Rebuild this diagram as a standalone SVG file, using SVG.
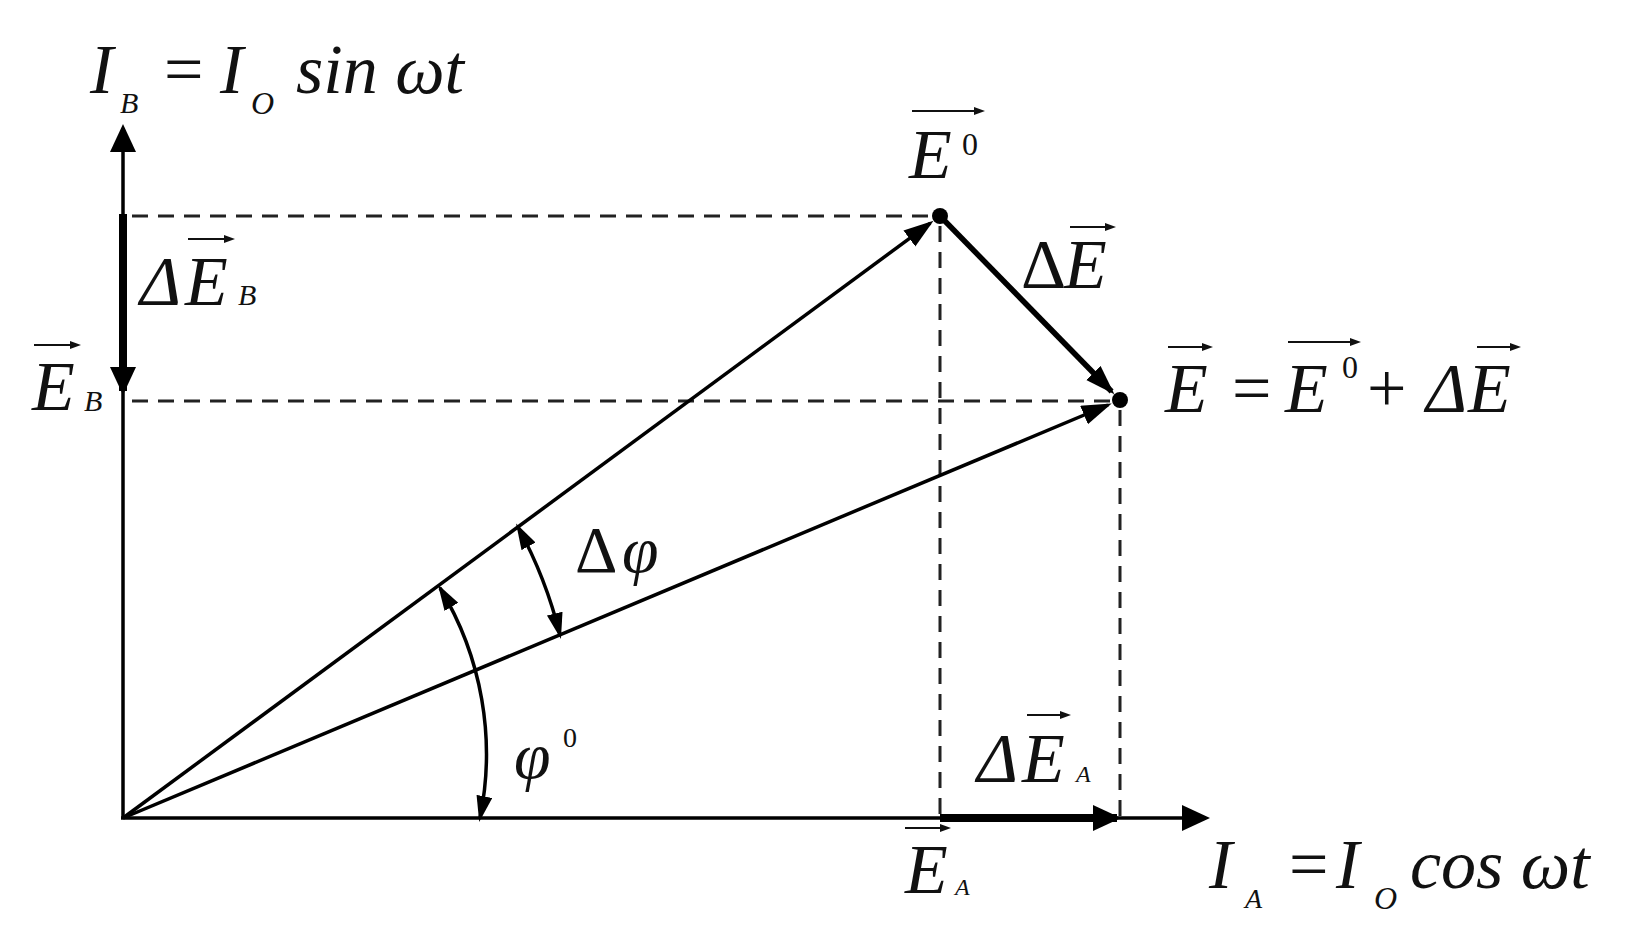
<svg xmlns="http://www.w3.org/2000/svg" width="1625" height="947" viewBox="0 0 1625 947">
<style>
.t{font-family:"Liberation Serif","Times New Roman",serif;font-style:italic;fill:#111;}
.u{font-family:"Liberation Serif","Times New Roman",serif;font-style:normal;fill:#111;}
.big{font-size:70px;}
.sub{font-size:30px;}
.ln{stroke:#000;stroke-width:3.5;fill:none;}
.thick{stroke:#000;stroke-width:8;fill:none;}
.mid{stroke:#000;stroke-width:5.5;fill:none;}
.dash{stroke:#222;stroke-width:3;stroke-dasharray:16 10;fill:none;}
.ov{stroke:#111;stroke-width:2;fill:none;}
</style>
<defs>
<marker id="axh" markerUnits="userSpaceOnUse" markerWidth="30" markerHeight="28" refX="24" refY="13" orient="auto">
<path d="M0,0 L28,13 L0,26 z" fill="#000"/>
</marker>
<marker id="vh" markerUnits="userSpaceOnUse" markerWidth="32" markerHeight="22" refX="26" refY="10" orient="auto">
<path d="M0,0 L30,10 L0,20 z" fill="#000"/>
</marker>
<marker id="ah" markerUnits="userSpaceOnUse" markerWidth="28" markerHeight="18" refX="22" refY="8" orient="auto-start-reverse">
<path d="M0,0 L26,8 L0,16 z" fill="#000"/>
</marker>
<marker id="oh" markerUnits="userSpaceOnUse" markerWidth="12" markerHeight="10" refX="8" refY="4" orient="auto">
<path d="M0,0 L11,4 L0,8 z" fill="#111"/>
</marker>
</defs>
<rect width="1625" height="947" fill="#fff"/>

<g id="connectors">
<line class="ln" x1="123" y1="818" x2="123" y2="128" marker-end="url(#axh)"/>
<line class="ln" x1="121" y1="818" x2="1206" y2="818" marker-end="url(#axh)"/>
<line class="dash" x1="132" y1="216" x2="932" y2="216"/>
<line class="dash" x1="132" y1="401" x2="1112" y2="401"/>
<line class="dash" x1="940" y1="226" x2="940" y2="816"/>
<line class="dash" x1="1120" y1="410" x2="1120" y2="816"/>
<line class="thick" x1="123" y1="214" x2="123" y2="391" marker-end="url(#axh)"/>
<line class="thick" x1="940" y1="818" x2="1117" y2="818" marker-end="url(#axh)"/>
<line class="ln" x1="123" y1="818" x2="930.3" y2="223.1" marker-end="url(#vh)"/>
<line class="ln" x1="123" y1="818" x2="1108" y2="405" marker-end="url(#vh)"/>
<line class="mid" x1="940" y1="216" x2="1111.6" y2="391.5" marker-end="url(#vh)"/>
<path class="ln" d="M440,588 A320,320 0 0 1 480,818" marker-start="url(#ah)" marker-end="url(#ah)"/>
<path class="ln" d="M518,527 A450,450 0 0 1 560,635" marker-start="url(#ah)" marker-end="url(#ah)"/>
<circle cx="940" cy="216" r="8" fill="#000"/>
<circle cx="1120" cy="400" r="8" fill="#000"/>
</g>

<g id="label-IB">
<text class="t big" x="90" y="93">I</text>
<text class="t" x="120" y="113" font-size="30">B</text>
<text class="u big" x="164" y="93">=</text>
<text class="t big" x="220" y="93">I</text>
<text class="t" x="251" y="114" font-size="32">O</text>
<text class="t big" x="296" y="93">sin ωt</text>
</g>

<g id="label-dEB">
<text class="t big" x="140" y="305">Δ</text>
<text class="t big" x="185" y="305">E</text>
<text class="t sub" x="238" y="305">B</text>
<line class="ov" x1="188" y1="239" x2="232" y2="239" marker-end="url(#oh)"/>
</g>

<g id="label-EB">
<text class="t big" x="32" y="410">E</text>
<text class="t sub" x="84" y="411">B</text>
<line class="ov" x1="34" y1="345" x2="78" y2="345" marker-end="url(#oh)"/>
</g>

<g id="label-E0">
<text class="t big" x="909" y="178">E</text>
<text class="u" x="962" y="155" font-size="32">0</text>
<line class="ov" x1="912" y1="111" x2="982" y2="111" marker-end="url(#oh)"/>
</g>

<g id="label-dE">
<text class="u big" x="1021" y="288">Δ</text>
<text class="t big" x="1064" y="288">E</text>
<line class="ov" x1="1070" y1="227" x2="1113" y2="227" marker-end="url(#oh)"/>
</g>

<g id="label-Esum">
<text class="t big" x="1165" y="412">E</text>
<line class="ov" x1="1168" y1="347" x2="1210" y2="347" marker-end="url(#oh)"/>
<text class="u big" x="1232" y="412">=</text>
<text class="t big" x="1285" y="412">E</text>
<text class="u" x="1342" y="378" font-size="32">0</text>
<line class="ov" x1="1288" y1="342" x2="1358" y2="342" marker-end="url(#oh)"/>
<text class="u big" x="1367" y="412">+</text>
<text class="t big" x="1426" y="412">Δ</text>
<text class="t big" x="1468" y="412">E</text>
<line class="ov" x1="1477" y1="347" x2="1518" y2="347" marker-end="url(#oh)"/>
</g>

<g id="label-dphi">
<text class="u" x="575" y="572" font-size="66">Δ</text>
<text class="t" x="622" y="572" font-size="66">φ</text>
</g>

<g id="label-phi0">
<text class="t" x="514" y="778" font-size="66">φ</text>
<text class="u" x="563" y="747" font-size="28">0</text>
</g>

<g id="label-dEA">
<text class="t big" x="977" y="782">Δ</text>
<text class="t big" x="1022" y="782">E</text>
<text class="t" x="1076" y="782" font-size="24">A</text>
<line class="ov" x1="1027" y1="715" x2="1068" y2="715" marker-end="url(#oh)"/>
</g>

<g id="label-EA">
<text class="t big" x="905" y="893">E</text>
<text class="t" x="955" y="895" font-size="24">A</text>
<line class="ov" x1="905" y1="828" x2="948" y2="828" marker-end="url(#oh)"/>
</g>

<g id="label-IA">
<text class="t big" x="1209" y="888">I</text>
<text class="t" x="1245" y="908" font-size="28">A</text>
<text class="u big" x="1289" y="888">=</text>
<text class="t big" x="1336" y="888">I</text>
<text class="t" x="1374" y="909" font-size="32">O</text>
<text class="t big" x="1410" y="888">cos ωt</text>
</g>
</svg>
